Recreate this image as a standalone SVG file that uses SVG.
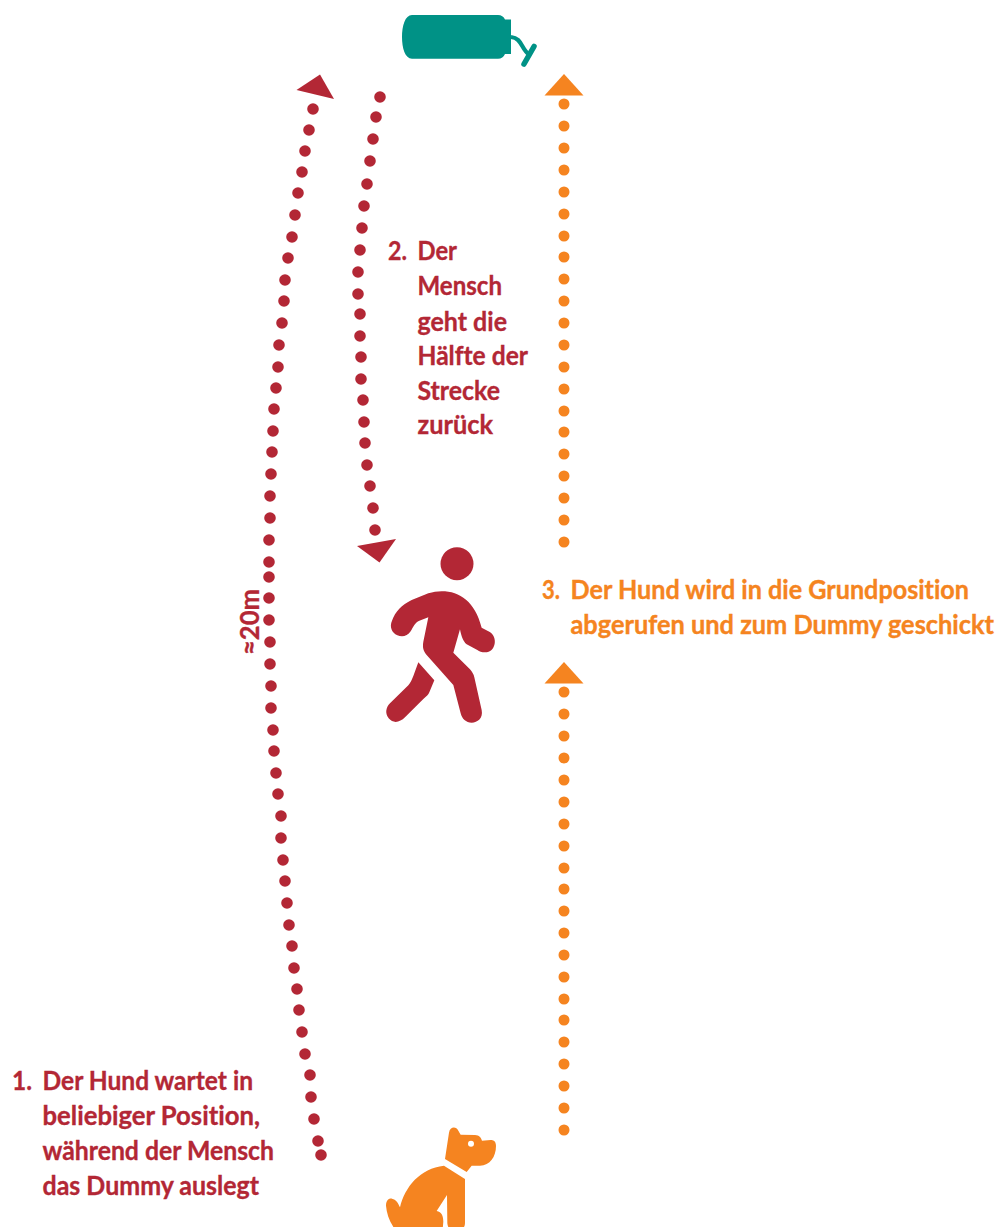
<svg xmlns="http://www.w3.org/2000/svg" width="999" height="1227" viewBox="0 0 999 1227">
<style>
text{font-family:"Lato","Liberation Sans",sans-serif;font-weight:700;font-size:27px;font-variant-ligatures:none;stroke-width:.35px}
#label-3 text{font-size:25px}
.r{fill:#B32735}.o{fill:#F58420}.t{fill:#009286}
g.r text{stroke:#B32735}g.o text{stroke:#F58420}
.dr{fill:none;stroke:#B32735;stroke-width:11.6;stroke-linecap:round}
.do{fill:none;stroke:#F58420;stroke-width:11;stroke-linecap:round}
</style>
<rect width="999" height="1227" fill="#fff"/>
<g id="connectors">
<path class="dr" d="M313 109h0M309 130h0M305 151h0M302 172h0M298 193h0M295 215h0M292 237h0M288 258h0M285 280h0M284 301h0M282 323h0M279 345h0M278 367h0M276 388h0M274 409h0M273 431h0M272 452h0M271 474h0M270 496h0M270 518h0M269 540h0M269 562h0M269 577h0M269 598h0M269 620h0M270 642h0M270 664h0M271 686h0M271 708h0M273 730h0M274 751h0M276 773h0M278 794h0M281 816h0M281 838h0M283 860h0M285 881h0M287 903h0M289 925h0M292 946h0M294 968h0M297 989h0M299 1010h0M302 1032h0M305 1054h0M310 1075h0M311 1097h0M314 1119h0M318 1141h0M321 1155h0"/>
<polygon class="r" points="296.5,90 320,74.500 334,99"/>
<path class="dr" d="M380 97h0M376 117h0M373 139h0M370 161h0M367 184h0M364 206h0M362 228h0M360 250h0M358 272h0M358 294h0M360 314h0M360 336h0M361 357h0M361 379h0M363 400h0M364 422h0M365 443h0M367 465h0M370 486h0M373 508h0M375 530h0"/>
<polygon class="r" points="396,539 357,546 379.500,562.500"/>
<path class="do" d="M564 104h0M564 126h0M564 148h0M564 170h0M564 192h0M564 214h0M564 236h0M564 257h0M564 279h0M564 301h0M564 323h0M564 345h0M564 367h0M564 389h0M564 411h0M564 432h0M564 454h0M564 476h0M564 498h0M564 520h0M564 542h0"/>
<polygon class="o" points="544.500,95.500 564,74 583.500,95.500"/>
<path class="do" d="M564 692h0M564 714h0M564 736h0M564 758h0M564 780h0M564 802h0M564 824h0M564 846h0M564 868h0M564 889h0M564 911h0M564 933h0M564 955h0M564 977h0M564 999h0M564 1020h0M564 1042h0M564 1064h0M564 1086h0M564 1108h0M564 1130h0"/>
<polygon class="o" points="544.500,683.500 564,662 583.500,683.500"/>
</g>
<g id="dummy">
<path class="t" d="M412 15H498Q503 15 505 19.500H511V54H505Q503 58.700 498 58.700H412C405 58.700 402 48 402 37C402 26 405 15 412 15Z"/>
<path d="M511 37C522 38 521 49 529 54.500" fill="none" stroke="#009286" stroke-width="4.200"/>
<path d="M524 64L534 46.500" fill="none" stroke="#009286" stroke-width="5.500" stroke-linecap="round"/>
</g>
<g id="person">
<circle class="r" cx="457" cy="563.700" r="16.500"/>
<g transform="translate(370 530) scale(.3333)">
<path class="r" d="M215 184C270 184 315 215 335 293L358 305C385 320 378 367 345 367C335 367 328 364 322 360L290 343C280 335 274 320 270 298L250 368L300 418C307 426 311 433 313 442L335 540C340 565 322 578 305 578C288 578 276 567 272 550L250 465L170 375C160 363 157 352 160 335L175 262L148 272C135 278 130 290 122 304C112 320 95 322 82 316C65 308 58 290 66 272C76 245 95 225 125 210L175 190C190 186 200 184 215 184Z"/>
<path class="r" d="M145 397L193 451L178 487C175 495 170 498 160 507L105 562C90 577 70 582 56 565C44 550 48 532 60 520L115 466C122 458 125 450 130 438Z"/>
</g>
</g>
<g id="dog">
<g transform="translate(370 1110) scale(.3333)">
<path class="o" d="M225 147L237 68C240 50 258 48 265 62L272 74L315 75C328 76 333 82 336 92L362 90C373 90 378 96 378 108C378 140 360 167 330 167H305L290 186Z"/>
<circle cx="303" cy="101" r="9" fill="#fff"/>
<path class="o" d="M222 167L285 207V340C285 352 278 358 268 358H245C237 358 233 350 232 340L231 255L200 303C215 306 220 318 220 335L218 358H75C58 335 50 310 48 287C48 270 58 265 66 266C78 268 85 280 90 292C105 230 150 175 222 167Z"/>
</g>
</g>
<g id="label-1" class="r">
<text x="12" y="1090" textLength="20" lengthAdjust="spacingAndGlyphs">1.</text>
<text x="42.500" y="1090" textLength="210.500" lengthAdjust="spacingAndGlyphs">Der Hund wartet in</text>
<text x="42.500" y="1124.500" textLength="217.500" lengthAdjust="spacingAndGlyphs">beliebiger Position,</text>
<text x="42.500" y="1160" textLength="231.500" lengthAdjust="spacingAndGlyphs">während der Mensch</text>
<text x="42.500" y="1194.500" textLength="216.500" lengthAdjust="spacingAndGlyphs">das Dummy auslegt</text>
</g>
<g id="label-2" class="r">
<text x="388" y="260" textLength="19" lengthAdjust="spacingAndGlyphs">2.</text>
<text x="417.500" y="260" textLength="39.500" lengthAdjust="spacingAndGlyphs">Der</text>
<text x="417.500" y="295" textLength="84.500" lengthAdjust="spacingAndGlyphs">Mensch</text>
<text x="417.500" y="331" textLength="89.500" lengthAdjust="spacingAndGlyphs">geht die</text>
<text x="417.500" y="365" textLength="110.500" lengthAdjust="spacingAndGlyphs">Hälfte der</text>
<text x="417.500" y="400" textLength="82.500" lengthAdjust="spacingAndGlyphs">Strecke</text>
<text x="417.500" y="434" textLength="75.500" lengthAdjust="spacingAndGlyphs">zurück</text>
</g>
<g id="label-3" class="o">
<text transform="translate(542 599) scale(1 1.08)" textLength="18" lengthAdjust="spacingAndGlyphs">3.</text>
<text transform="translate(570.500 599) scale(1 1.08)" textLength="398.500" lengthAdjust="spacingAndGlyphs">Der Hund wird in die Grundposition</text>
<text transform="translate(570.500 634) scale(1 1.08)" textLength="423.500" lengthAdjust="spacingAndGlyphs">abgerufen und zum Dummy geschickt</text>
</g>
<g id="distance" class="r">
<text transform="translate(259 655) rotate(-90)" textLength="66" lengthAdjust="spacingAndGlyphs">≈20m</text>
</g>
</svg>
